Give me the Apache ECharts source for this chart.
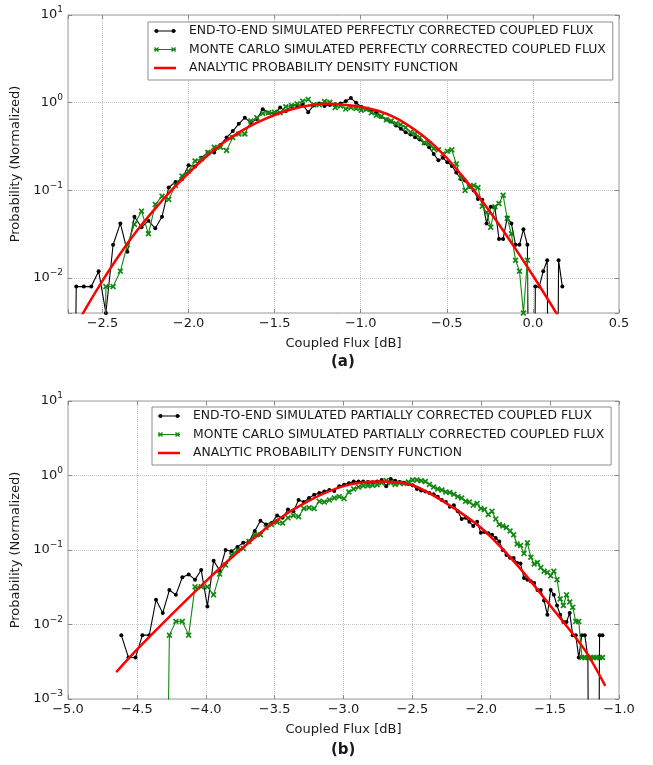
<!DOCTYPE html>
<html>
<head>
<meta charset="utf-8">
<script src="https://cdn.jsdelivr.net/npm/echarts@6/dist/echarts.min.js"></script>
<style>
html,body{margin:0;padding:0;background:#fff;}
#chart{width:653px;height:765px;}
</style>
</head>
<body>
<div id="chart"></div>
<script>
// ---------------- DATA ----------------
// Panel (a): perfectly corrected
const topNames = [
  'END-TO-END SIMULATED PERFECTLY CORRECTED COUPLED FLUX',
  'MONTE CARLO SIMULATED PERFECTLY CORRECTED COUPLED FLUX',
  'ANALYTIC PROBABILITY DENSITY FUNCTION'
];
const topX = [-2.696, -2.652, -2.608, -2.565, -2.522, -2.480, -2.438, -2.396, -2.355, -2.314,
  -2.273, -2.233, -2.193, -2.154, -2.115, -2.076, -2.038, -2.000, -1.962, -1.925,
  -1.888, -1.851, -1.815, -1.779, -1.743, -1.708, -1.673, -1.638, -1.603, -1.569,
  -1.535, -1.501, -1.468, -1.435, -1.402, -1.369, -1.337, -1.305, -1.273, -1.241,
  -1.210, -1.179, -1.148, -1.117, -1.087, -1.057, -1.027, -0.997, -0.967, -0.938,
  -0.909, -0.880, -0.851, -0.823, -0.795, -0.767, -0.739, -0.711, -0.684, -0.657,
  -0.630, -0.603, -0.576, -0.549, -0.523, -0.497, -0.471, -0.445, -0.419, -0.394,
  -0.369, -0.344, -0.319, -0.294, -0.269, -0.245, -0.221, -0.197, -0.173, -0.149,
  -0.125, -0.101, -0.078, -0.055, -0.032, -0.009, 0.014, 0.037, 0.060, 0.083,
  0.105, 0.127, 0.149, 0.171];
const topEndToEnd = [0, 0.008, 0.008, 0.008, 0.012, 0.004, 0.024, 0.042, 0.020, 0.050,
  0.038, 0.045, 0.037, 0.050, 0.108, 0.125, 0.134, 0.193, 0.187, 0.236,
  0.27, 0.27, 0.33, 0.40, 0.475, 0.575, 0.675, 0.59, 0.65, 0.84,
  0.77, 0.75, 0.88, 0.80, 0.92, 0.93, 0.95, 0.78, 0.93, 0.98,
  0.92, 0.94, 0.96, 0.98, 1.04, 1.13, 1.0, 0.90, 0.85, 0.80,
  0.77, 0.69, 0.645, 0.61, 0.55, 0.505, 0.46, 0.435, 0.405, 0.38,
  0.345, 0.31, 0.26, 0.22, 0.235, 0.21, 0.19, 0.16, 0.135, 0.13,
  0.11, 0.10, 0.080, 0.078, 0.042, 0.065, 0.064, 0.028, 0.028, 0.049,
  0.042, 0.024, 0.024, 0.036, 0.024, 0, 0.008, 0.008, 0.012, 0.016,
  0, 0, 0.016, 0.008];
const topMonteCarlo = [null, null, null, null, 0, 0.008, 0.008, 0.012, 0.024, 0.041,
  0.058, 0.032, 0.069, 0.086, 0.079, 0.114, 0.146, 0.166, 0.216, 0.23,
  0.27, 0.31, 0.31, 0.286, 0.40, 0.44, 0.44, 0.62, 0.675, 0.755,
  0.77, 0.78, 0.77, 0.90, 0.93, 0.97, 1.04, 1.09, 0.95, 0.95,
  1.03, 1.01, 0.88, 0.92, 0.85, 0.88, 0.86, 0.82, 0.84, 0.77,
  0.72, 0.70, 0.64, 0.62, 0.58, 0.56, 0.52, 0.46, 0.44, 0.40,
  0.35, 0.34, 0.30, 0.29, 0.26, 0.28, 0.29, 0.20, 0.14, 0.10,
  0.11, 0.114, 0.108, 0.066, 0.056, 0.038, 0.065, 0.071, 0.088, 0.048,
  0.032, 0.016, 0.012, 0.004, 0.016, 0, null, null, null, null,
  null, null, null, null];
const topPdfX = [-2.7, -2.6, -2.5, -2.4, -2.3, -2.2, -2.1, -2.0, -1.9, -1.8, -1.7, -1.6, -1.5,
  -1.4, -1.3, -1.2, -1.1, -1.0, -0.9, -0.8, -0.7, -0.6, -0.5, -0.4, -0.3, -0.2, -0.1, 0.0, 0.1, 0.2];
const topPdfY = [0.00195, 0.0044, 0.0093, 0.0186, 0.0347, 0.060, 0.100, 0.158, 0.24, 0.347, 0.468, 0.596, 0.724,
  0.841, 0.927, 0.97, 0.95, 0.90, 0.81, 0.676, 0.513, 0.363, 0.234, 0.138, 0.0776, 0.0417, 0.0214, 0.0107, 0.0052, 0.0025];

// Panel (b): partially corrected
const botNames = [
  'END-TO-END SIMULATED PARTIALLY CORRECTED COUPLED FLUX',
  'MONTE CARLO SIMULATED PARTIALLY CORRECTED COUPLED FLUX',
  'ANALYTIC PROBABILITY DENSITY FUNCTION'
];
const botX = [-4.613, -4.561, -4.510, -4.460, -4.410, -4.361, -4.312, -4.264, -4.217, -4.170,
  -4.124, -4.078, -4.033, -3.988, -3.943, -3.899, -3.856, -3.813, -3.770, -3.728,
  -3.686, -3.644, -3.603, -3.562, -3.522, -3.482, -3.442, -3.403, -3.364, -3.326,
  -3.288, -3.250, -3.213, -3.176, -3.139, -3.103, -3.067, -3.031, -2.996, -2.961,
  -2.926, -2.891, -2.857, -2.823, -2.789, -2.756, -2.723, -2.690, -2.657, -2.625,
  -2.593, -2.561, -2.529, -2.498, -2.467, -2.436, -2.406, -2.376, -2.346, -2.316,
  -2.286, -2.257, -2.228, -2.199, -2.170, -2.142, -2.114, -2.086, -2.058, -2.030,
  -2.003, -1.976, -1.949, -1.922, -1.895, -1.869, -1.843, -1.817, -1.791, -1.765,
  -1.740, -1.715, -1.690, -1.665, -1.640, -1.616, -1.592, -1.568, -1.544, -1.520,
  -1.496, -1.473, -1.450, -1.427, -1.404, -1.381, -1.358, -1.336, -1.314, -1.292,
  -1.270, -1.248, -1.226, -1.204, -1.183, -1.162, -1.141, -1.120];
const botEndToEnd = [0.0072, 0.0036, 0.0036, 0.0072, 0.0072, 0.0215, 0.0143, 0.029, 0.025, 0.043,
  0.047, 0.040, 0.054, 0.0175, 0.072, 0.053, 0.10, 0.096, 0.11, 0.125,
  0.13, 0.18, 0.247, 0.22, 0.23, 0.29, 0.27, 0.35, 0.33, 0.47,
  0.44, 0.50, 0.55, 0.58, 0.61, 0.64, 0.62, 0.72, 0.75, 0.79,
  0.83, 0.83, 0.83, 0.82, 0.81, 0.83, 0.87, 0.72, 0.90, 0.85,
  0.82, 0.80, 0.77, 0.74, 0.66, 0.63, 0.61, 0.58, 0.56, 0.52,
  0.47, 0.44, 0.38, 0.40, 0.33, 0.26, 0.27, 0.24, 0.21, 0.24,
  0.17, 0.175, 0.168, 0.16, 0.145, 0.13, 0.10, 0.086, 0.079, 0.078,
  0.067, 0.066, 0.042, 0.040, 0.038, 0.036, 0.029, 0.029, 0.021, 0.0135,
  0.029, 0.025, 0.018, 0.0135, 0.0108, 0.0108, 0.0143, 0.0072, 0.0072, 0.0036,
  0.0072, 0.0072, 0.0036, 0, 0, 0, 0.0072, 0.0072];
const botMonteCarlo = [null, null, null, null, null, null, 0, 0.0072, 0.011, 0.011,
  0.0072, 0.032, 0.032, 0.032, 0.025, 0.0475, 0.063, 0.086, 0.10, 0.105,
  0.13, 0.16, 0.16, 0.20, 0.22, 0.235, 0.23, 0.27, 0.29, 0.28,
  0.36, 0.37, 0.36, 0.45, 0.44, 0.47, 0.50, 0.52, 0.49, 0.60,
  0.66, 0.70, 0.73, 0.73, 0.74, 0.75, 0.80, 0.86, 0.80, 0.76,
  0.79, 0.78, 0.82, 0.87, 0.87, 0.85, 0.83, 0.76, 0.70, 0.66,
  0.64, 0.60, 0.59, 0.56, 0.52, 0.50, 0.45, 0.44, 0.40, 0.42,
  0.36, 0.35, 0.30, 0.33, 0.26, 0.22, 0.21, 0.20, 0.18, 0.16,
  0.12, 0.115, 0.09, 0.125, 0.08, 0.065, 0.068, 0.058, 0.052, 0.050,
  0.045, 0.052, 0.040, 0.022, 0.018, 0.025, 0.020, 0.017, 0.011, 0.011,
  0.0036, 0.0036, 0.0036, 0.0036, 0.0036, 0.0036, 0.0036, 0.0036];
const botPdfX = [-4.65, -4.5, -4.25, -4.0, -3.75, -3.5, -3.25, -3.0, -2.75, -2.5, -2.25, -2.0, -1.75, -1.5, -1.25, -1.1];
const botPdfY = [0.0023, 0.0046, 0.0135, 0.038, 0.10, 0.24, 0.46, 0.72, 0.83, 0.74, 0.42, 0.197, 0.066, 0.018, 0.0046, 0.0015];

const panelLabels = ['(a)', '(b)'];
const xLabel = 'Coupled Flux [dB]';
const yLabel = 'Probability (Normalized)';

// ---------------- CHART ----------------
const FONT = 'DejaVu Sans';
const TXT = '#1a1a1a';
const ZERO = 1e-9; // empty bins, drawn at -infinity on the log axis like the original

function pairs(xs, ys) {
  const out = [];
  xs.forEach((x, i) => {
    const y = ys[i];
    if (y === null || y === undefined) return;
    out.push([x, y === 0 ? ZERO : y]);
  });
  return out;
}

const XMARK = 'path://M2,0 L5,3 L8,0 L10,2 L7,5 L10,8 L8,10 L5,7 L2,10 L0,8 L3,5 L0,2 Z';
const CORNERS = ' M0,0 L0.01,0 L0,0.01 Z M30,8 L29.99,8 L30,7.99 Z';
const ICON_BLACK = 'path://M0,3.5 L22,3.5 L22,4.5 L0,4.5 Z M0.5,4 A2,2 0 1,1 4.5,4 A2,2 0 1,1 0.5,4 Z M17.5,4 A2,2 0 1,1 21.5,4 A2,2 0 1,1 17.5,4 Z' + CORNERS;
function xAt(ox, oy) {
  const p = [[1,0],[2.5,1.5],[4,0],[5,1],[3.5,2.5],[5,4],[4,5],[2.5,3.5],[1,5],[0,4],[1.5,2.5],[0,1]];
  return ' M' + p.map(q => (q[0] + ox) + ',' + (q[1] + oy)).join(' L') + ' Z';
}
const ICON_GREEN = 'path://M0,3.5 L22,3.5 L22,4.5 L0,4.5 Z' + xAt(0, 1.5) + xAt(17, 1.5) + CORNERS;
const ICON_RED = 'path://M0,2.75 L22,2.75 L22,5.25 L0,5.25 Z' + CORNERS;

function fmtX(v) {
  if (Math.abs(v / 0.5 - Math.round(v / 0.5)) > 1e-6) return '';
  const s = Math.abs(v).toFixed(1);
  return (v < -1e-9 ? '\u2212' : '') + s;
}
function fmtY(v) {
  const l = Math.log10(v);
  const e = Math.round(l);
  if (Math.abs(l - e) > 1e-6) return '';
  return '{b|10}{s|' + (e < 0 ? '\u2212' : '') + Math.abs(e) + '}';
}

const TICK = {show: true, inside: true, length: 4, lineStyle: {color: '#888'}};
const NOLINE = {show: false, onZero: false};
function makeX(gi, min, max) {
  return {
    type: 'value', gridIndex: gi, min: min, max: max, position: 'bottom',
    splitNumber: 6, minInterval: 0.5, maxInterval: 0.5,
    name: xLabel, nameLocation: 'middle', nameGap: 24,
    nameTextStyle: {fontFamily: FONT, fontSize: 13, color: TXT},
    axisLine: NOLINE,
    axisTick: TICK,
    axisLabel: {formatter: fmtX, fontFamily: FONT, fontSize: 13, color: TXT, margin: 4, showMinLabel: true, showMaxLabel: true},
    splitLine: {show: true, lineStyle: {type: 'dotted', color: '#c4c4c4', width: 1}}
  };
}
function makeXTop(gi, min, max) {
  return {
    type: 'value', gridIndex: gi, min: min, max: max, position: 'top',
    splitNumber: 6, minInterval: 0.5, maxInterval: 0.5,
    axisLine: NOLINE, axisTick: TICK, axisLabel: {show: false}, splitLine: {show: false}
  };
}
function makeY(gi, min, max) {
  return {
    type: 'log', logBase: 10, gridIndex: gi, min: min, max: max, position: 'left',
    name: yLabel, nameLocation: 'middle', nameGap: 41,
    nameTextStyle: {fontFamily: FONT, fontSize: 13, color: TXT},
    axisLine: NOLINE,
    axisTick: TICK,
    axisLabel: {
      formatter: fmtY, margin: 5, color: TXT,
      rich: {
        b: {fontFamily: FONT, fontSize: 13, color: TXT},
        s: {fontFamily: FONT, fontSize: 9, color: TXT, padding: [0, 0, 10, 0]}
      }
    },
    splitLine: {show: true, lineStyle: {type: 'dotted', color: '#c4c4c4', width: 1}}
  };
}
function makeYRight(gi, min, max) {
  return {
    type: 'log', logBase: 10, gridIndex: gi, min: min, max: max, position: 'right',
    axisLine: NOLINE, axisTick: TICK, axisLabel: {show: false}, splitLine: {show: false}
  };
}
function makeLegend(names, left, top) {
  return {
    orient: 'vertical', left: left, top: top,
    backgroundColor: '#fff', borderColor: '#8c8c8c', borderWidth: 1,
    padding: [3, 7, 6, 6], itemGap: 6.5, itemWidth: 30, itemHeight: 8,
    itemStyle: {borderWidth: 0},
    textStyle: {fontFamily: FONT, fontSize: 12.4, color: TXT},
    selectedMode: false,
    data: [
      {name: names[0], icon: ICON_BLACK},
      {name: names[1], icon: ICON_GREEN},
      {name: names[2], icon: ICON_RED}
    ]
  };
}
function blackSeries(name, gi, data) {
  return {name: name, type: 'line', xAxisIndex: gi, yAxisIndex: gi, data: data,
    symbol: 'circle', symbolSize: 4, showSymbol: true, clip: true,
    lineStyle: {color: '#000', width: 1.1}, itemStyle: {color: '#000', borderWidth: 0}, z: 2};
}
function greenSeries(name, gi, data) {
  return {name: name, type: 'line', xAxisIndex: gi, yAxisIndex: gi, data: data,
    symbol: XMARK, symbolSize: 6, showSymbol: true, clip: true,
    lineStyle: {color: '#118811', width: 1.1}, itemStyle: {color: '#118811', borderWidth: 0}, z: 3};
}
function redSeries(name, gi, data) {
  return {name: name, type: 'line', xAxisIndex: gi, yAxisIndex: gi, data: data,
    symbol: 'none', smooth: 0.3, clip: true,
    lineStyle: {color: '#ff0000', width: 2.5}, itemStyle: {color: '#ff0000'}, z: 4};
}

const chart = echarts.init(document.getElementById('chart'), null, {renderer: 'canvas'});
chart.setOption({
  animation: false,
  backgroundColor: '#fff',
  grid: [
    {left: 68, top: 15, width: 551, height: 298, show: true, borderColor: '#9a9a9a', borderWidth: 1, backgroundColor: 'transparent'},
    {left: 68, top: 401, width: 551, height: 298, show: true, borderColor: '#9a9a9a', borderWidth: 1, backgroundColor: 'transparent'}
  ],
  xAxis: [makeX(0, -2.7, 0.5), makeX(1, -5.0, -1.0), makeXTop(0, -2.7, 0.5), makeXTop(1, -5.0, -1.0)],
  yAxis: [makeY(0, 0.004, 10), makeY(1, 0.001, 10), makeYRight(0, 0.004, 10), makeYRight(1, 0.001, 10)],
  legend: [makeLegend(topNames, 148, 22), makeLegend(botNames, 152, 407)],
  series: [
    blackSeries(topNames[0], 0, pairs(topX, topEndToEnd)),
    greenSeries(topNames[1], 0, pairs(topX, topMonteCarlo)),
    redSeries(topNames[2], 0, pairs(topPdfX, topPdfY)),
    blackSeries(botNames[0], 1, pairs(botX, botEndToEnd)),
    greenSeries(botNames[1], 1, pairs(botX, botMonteCarlo)),
    redSeries(botNames[2], 1, pairs(botPdfX, botPdfY))
  ],
  graphic: [
    {type: 'text', left: 343 - 12, top: 355, style: {text: panelLabels[0], font: 'bold 15px "DejaVu Sans"', fill: TXT}},
    {type: 'text', left: 343 - 12, top: 743, style: {text: panelLabels[1], font: 'bold 15px "DejaVu Sans"', fill: TXT}}
  ]
});
</script>
</body>
</html>
